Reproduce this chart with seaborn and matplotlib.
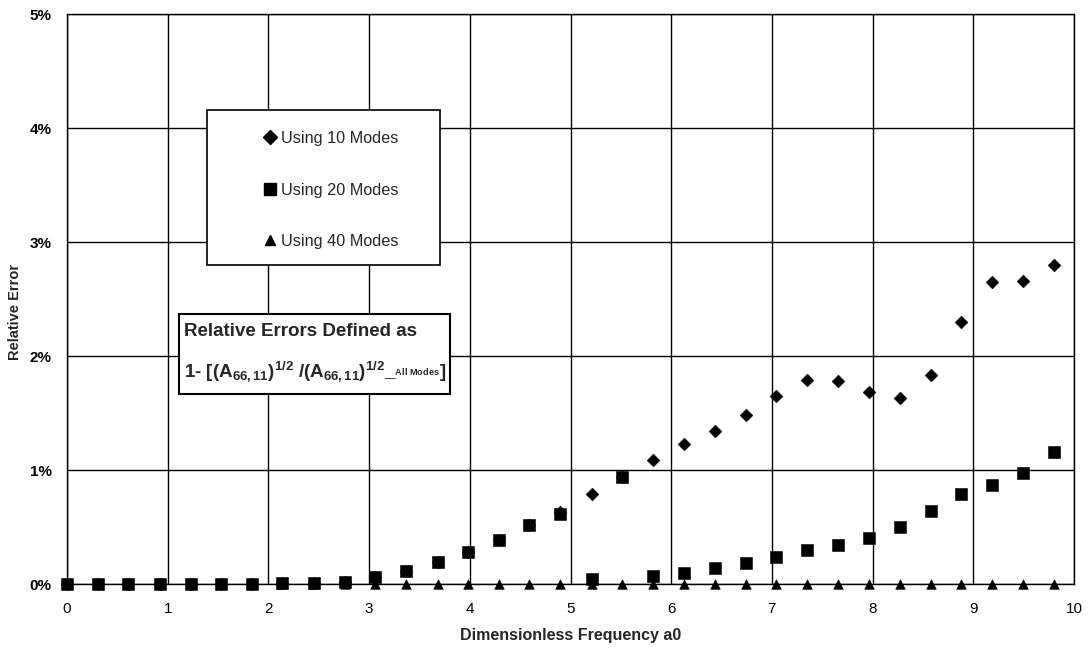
import matplotlib
matplotlib.use("Agg")
import matplotlib.pyplot as plt
from matplotlib.patches import Rectangle
from matplotlib.lines import Line2D
from matplotlib.ticker import PercentFormatter
import pandas as pd
import seaborn as sns

# Dimensionless frequency a0 at which the errors were evaluated
freq = [0.00, 0.31, 0.61, 0.92, 1.23, 1.53, 1.84, 2.14, 2.45, 2.76,
        3.06, 3.37, 3.68, 3.98, 4.29, 4.59, 4.90, 5.21, 5.51, 5.82,
        6.13, 6.43, 6.74, 7.04, 7.35, 7.66, 7.96, 8.27, 8.58, 8.88,
        9.19, 9.49, 9.80]

# Relative errors in percent
err_10_modes = [0.00, 0.00, 0.00, 0.00, 0.00, 0.00, 0.00, 0.005, 0.01, 0.02,
                0.06, 0.11, 0.19, 0.28, 0.39, 0.52, 0.63, 0.79, 0.94, 1.09,
                1.225, 1.34, 1.48, 1.65, 1.79, 1.78, 1.68, 1.63, 1.83, 2.30,
                2.65, 2.66, 2.80]
err_20_modes = [0.00, 0.00, 0.00, 0.00, 0.00, 0.00, 0.00, 0.005, 0.01, 0.02,
                0.06, 0.11, 0.19, 0.28, 0.39, 0.52, 0.61, 0.04, 0.94, 0.07,
                0.10, 0.14, 0.18, 0.24, 0.30, 0.34, 0.40, 0.50, 0.64, 0.79,
                0.87, 0.97, 1.16]
err_40_modes = [0.00] * 33

series_names = ["Using 10 Modes", "Using 20 Modes", "Using 40 Modes"]
x_ticks = list(range(0, 11))
y_ticks = [0, 1, 2, 3, 4, 5]

sns.set_style("white")
plt.rcParams["font.family"] = ["Liberation Sans", "DejaVu Sans"]
plt.rcParams["mathtext.fontset"] = "custom"
plt.rcParams["mathtext.rm"] = "Liberation Sans:bold"
plt.rcParams["mathtext.it"] = "Liberation Sans:bold"
plt.rcParams["mathtext.bf"] = "Liberation Sans:bold"
plt.rcParams["mathtext.default"] = "rm"

W, H = 1091, 649
fig = plt.figure(figsize=(W / 100, H / 100), dpi=100)
L, R, T, B = 67, 1074, 14, 584
ax = fig.add_axes([L / W, 1 - B / H, (R - L) / W, (B - T) / H])


def ax_xy(px, py):
    """Pixel position on the canvas -> axes fraction."""
    return (px - L) / (R - L), (B - py) / (B - T)


frame = pd.DataFrame({
    "a0": freq * 3,
    "err": err_10_modes + err_20_modes + err_40_modes,
    "series": [series_names[0]] * len(freq) + [series_names[1]] * len(freq)
              + [series_names[2]] * len(freq),
})

marker_of = {series_names[0]: "D", series_names[1]: "s", series_names[2]: "^"}
size_of = {series_names[0]: 42, series_names[1]: 74, series_names[2]: 48}

# triangles underneath, then diamonds, squares on top
for name in [series_names[2], series_names[0], series_names[1]]:
    sub = frame[frame["series"] == name]
    sns.scatterplot(data=sub, x="a0", y="err", ax=ax, marker=marker_of[name],
                    s=size_of[name], color="black", edgecolor="black",
                    linewidth=0.4, legend=False, zorder=3, clip_on=False)

ax.set_xlim(0, 10)
ax.set_ylim(0, 5)
ax.set_xticks(x_ticks)
ax.set_yticks(y_ticks)
ax.yaxis.set_major_formatter(PercentFormatter(xmax=100, decimals=0))
ax.grid(True, color="black", linewidth=1.0)
ax.set_axisbelow(True)
for sp in ax.spines.values():
    sp.set_visible(True)
    sp.set_color("black")
    sp.set_linewidth(1.0)

ax.tick_params(axis="x", length=0, pad=13, labelsize=11, colors="black")
ax.tick_params(axis="y", length=4, width=1, pad=7, labelsize=11, colors="black")
for lab in ax.get_yticklabels():
    lab.set_fontweight("bold")

ax.set_xlabel("Dimensionless Frequency a0", fontsize=11.5, fontweight="bold")
ax.set_ylabel("Relative Error", fontsize=10.5, fontweight="bold")
ax.xaxis.set_label_coords(0.5, ax_xy(0, 628)[1])
ax.yaxis.set_label_coords(ax_xy(22, 0)[0], ax_xy(0, 312)[1])

# legend box
lx0, ly0 = ax_xy(207, 265)
lx1, ly1 = ax_xy(440, 110)
ax.add_patch(Rectangle((lx0, ly0), lx1 - lx0, ly1 - ly0, transform=ax.transAxes,
                       facecolor="white", edgecolor="black", linewidth=1.2,
                       zorder=4, clip_on=False))
handles = [Line2D([], [], linestyle="none", marker=marker_of[n], color="black",
                  markersize=ms) for n, ms in zip(series_names, [7.5, 8.8, 7.5])]
leg = ax.legend(handles, series_names, loc="center left",
                bbox_to_anchor=ax_xy(263, 190), frameon=False, fontsize=11.7,
                borderpad=0, borderaxespad=0, handlelength=0.9,
                handletextpad=0.2, labelspacing=2.25)
leg.set_zorder(5)

# definition box
bx0, by0 = ax_xy(179, 394)
bx1, by1 = ax_xy(450, 314)
ax.add_patch(Rectangle((bx0, by0), bx1 - bx0, by1 - by0, transform=ax.transAxes,
                       facecolor="white", edgecolor="black", linewidth=1.5,
                       zorder=4, clip_on=False))
tx, ty1 = ax_xy(184, 331)
_, ty2 = ax_xy(184, 371)
ax.text(tx, ty1, "Relative Errors Defined as", transform=ax.transAxes,
        fontsize=13.5, fontweight="bold", va="center", ha="left", zorder=6)
ax.text(tx, ty2,
        r"1- [(A$_{66,11}$)$^{1/2}$ /(A$_{66,11}$)$^{1/2}$_$_{{}^{All\ Modes}}$]",
        transform=ax.transAxes, fontsize=13.5, fontweight="bold",
        va="center", ha="left", zorder=6)

fig.savefig("out.png", dpi=100)
